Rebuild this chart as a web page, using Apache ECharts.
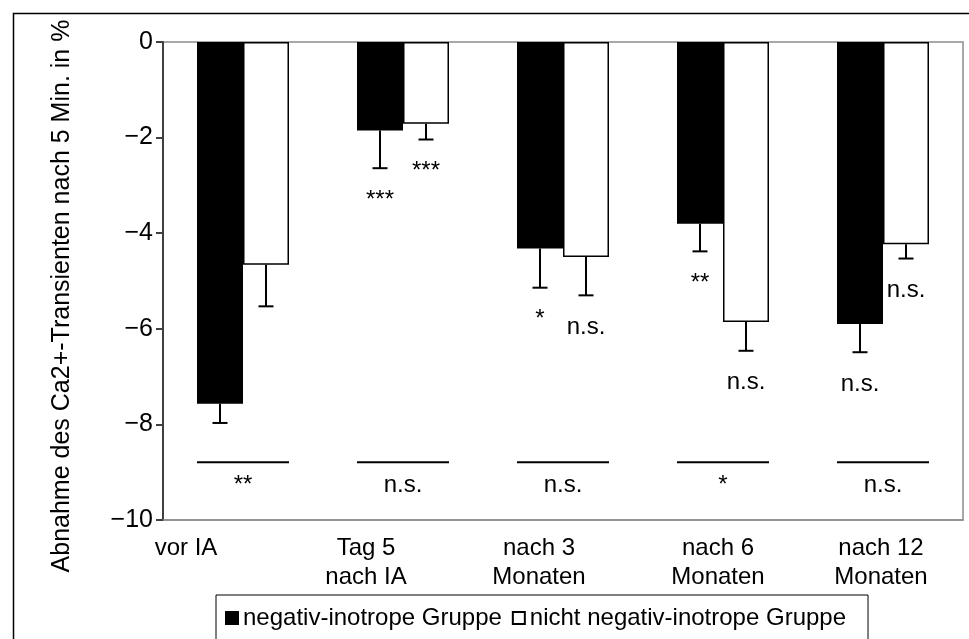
<!DOCTYPE html>
<html><head><meta charset="utf-8">
<script src="https://cdn.jsdelivr.net/npm/echarts@6/dist/echarts.min.js"></script>
<style>html,body{margin:0;padding:0;background:#fff}#c{width:969px;height:639px}</style>
</head><body><div id="c"></div>
<script>
// ---- data ----
const categories = ['vor IA', 'Tag 5\nnach IA', 'nach 3\nMonaten', 'nach 6\nMonaten', 'nach 12\nMonaten'];
const seriesNames = ['negativ-inotrope Gruppe', 'nicht negativ-inotrope Gruppe'];
const negValues = [-7.57, -1.85, -4.32, -3.80, -5.90];
const negErrors = [0.40, 0.79, 0.82, 0.58, 0.59];
const nonNegValues = [-4.66, -1.71, -4.50, -5.86, -4.23];
const nonNegErrors = [0.87, 0.33, 0.80, 0.60, 0.30];
const negSignificance = ['', '***', '*', '**', 'n.s.'];
const nonNegSignificance = ['', '***', 'n.s.', 'n.s.', 'n.s.'];
const groupComparison = ['**', 'n.s.', 'n.s.', '*', 'n.s.'];
const comparisonLevel = -8.79;
const yMin = -10, yMax = 0, yStep = 2;
const yTitle = 'Abnahme des Ca2+-Transienten nach 5 Min. in %';

// ---- styling ----
const FONT = "'Liberation Sans', Arial, sans-serif";
const BAR_W = 0.2875;              // bar width as fraction of category band
const labelShift = [114, 74, 48, 10, 4]; // right padding to mimic original label placement

const txt = (text, x, y) => ({
  type: 'text', x: x, y: y,
  style: { text: text, fill: '#000', font: '24px ' + FONT, align: 'center', verticalAlign: 'middle' }
});

function errorSeries(values, errors, sig, side) {
  return {
    type: 'custom', silent: true, z: 5,
    data: values.map((v, i) => [i, v, v - errors[i]]),
    encode: { x: 0, y: [1, 2] },
    renderItem(params, api) {
      const band = api.size([1, 0])[0];
      const x = api.coord([api.value(0), 0])[0] + side * band * BAR_W / 2;
      const y0 = api.coord([api.value(0), api.value(1)])[1];
      const y1 = api.coord([api.value(0), api.value(2)])[1];
      const cap = 7.5;
      const ch = [
        { type: 'line', shape: { x1: x, y1: y0, x2: x, y2: y1 }, style: { stroke: '#000', lineWidth: 2 } },
        { type: 'line', shape: { x1: x - cap, y1: y1, x2: x + cap, y2: y1 }, style: { stroke: '#000', lineWidth: 2 } }
      ];
      const s = sig[params.dataIndex];
      if (s) ch.push(txt(s, x, y1 + 32));
      return { type: 'group', children: ch };
    }
  };
}

const chart = echarts.init(document.getElementById('c'), null, { renderer: 'canvas' });
chart.setOption({
  animation: false,
  backgroundColor: '#fff',
  textStyle: { fontFamily: FONT },
  graphic: [{
    type: 'rect', left: 11, top: 11, shape: { width: 1000, height: 700 },
    style: { fill: 'none', stroke: '#000', lineWidth: 1.5 }, silent: true
  }],
  grid: { left: 163, right: 6, top: 42, bottom: 119, show: true, borderColor: '#8c8c8c', borderWidth: 1.5 },
  legend: {
    data: seriesNames, left: 216, top: 595, padding: [11, 22, 30, 9],
    borderColor: '#000', borderWidth: 1, itemWidth: 12, itemHeight: 12, itemGap: 10, icon: 'rect',
    textStyle: { fontSize: 24, color: '#000', fontFamily: FONT }
  },
  xAxis: {
    type: 'category',
    data: categories.map((c, i) => ({ value: c, textStyle: { padding: [0, labelShift[i], 0, 0] } })),
    axisLine: { onZero: false, lineStyle: { color: '#8c8c8c', width: 1.5 } },
    axisTick: { show: false },
    axisLabel: { interval: 0, fontSize: 24, lineHeight: 29, color: '#000', margin: 14, fontFamily: FONT }
  },
  yAxis: {
    type: 'value', min: yMin, max: yMax, interval: yStep,
    name: yTitle, nameLocation: 'middle', nameGap: 88,
    nameTextStyle: { fontSize: 25, color: '#000', fontFamily: FONT, padding: [0, 30, 0, 0] },
    axisLine: { show: true, lineStyle: { color: '#404040', width: 2 } },
    axisTick: { show: true, length: 7, lineStyle: { color: '#404040', width: 2 } },
    axisLabel: { fontSize: 25, color: '#000', margin: 10, fontFamily: FONT,
      formatter: v => String(v).replace('-', '\u2212') },
    splitLine: { show: false }
  },
  series: [
    { name: seriesNames[0], type: 'bar', data: negValues, barWidth: (BAR_W * 100) + '%', barGap: '0%',
      itemStyle: { color: '#000', borderColor: '#000', borderWidth: 1.5 } },
    { name: seriesNames[1], type: 'bar', data: nonNegValues, barWidth: (BAR_W * 100) + '%', barGap: '0%',
      itemStyle: { color: '#fff', borderColor: '#000', borderWidth: 1.5 } },
    errorSeries(negValues, negErrors, negSignificance, -1),
    errorSeries(nonNegValues, nonNegErrors, nonNegSignificance, 1),
    {
      type: 'custom', silent: true, z: 5,
      data: groupComparison.map((s, i) => [i, comparisonLevel]),
      renderItem(params, api) {
        const band = api.size([1, 0])[0];
        const p = api.coord([api.value(0), api.value(1)]);
        const hw = band * BAR_W;
        return { type: 'group', children: [
          { type: 'line', shape: { x1: p[0] - hw, y1: p[1], x2: p[0] + hw, y2: p[1] }, style: { stroke: '#000', lineWidth: 2 } },
          txt(groupComparison[params.dataIndex], p[0], p[1] + 23)
        ] };
      }
    }
  ]
});
</script>
</body></html>
